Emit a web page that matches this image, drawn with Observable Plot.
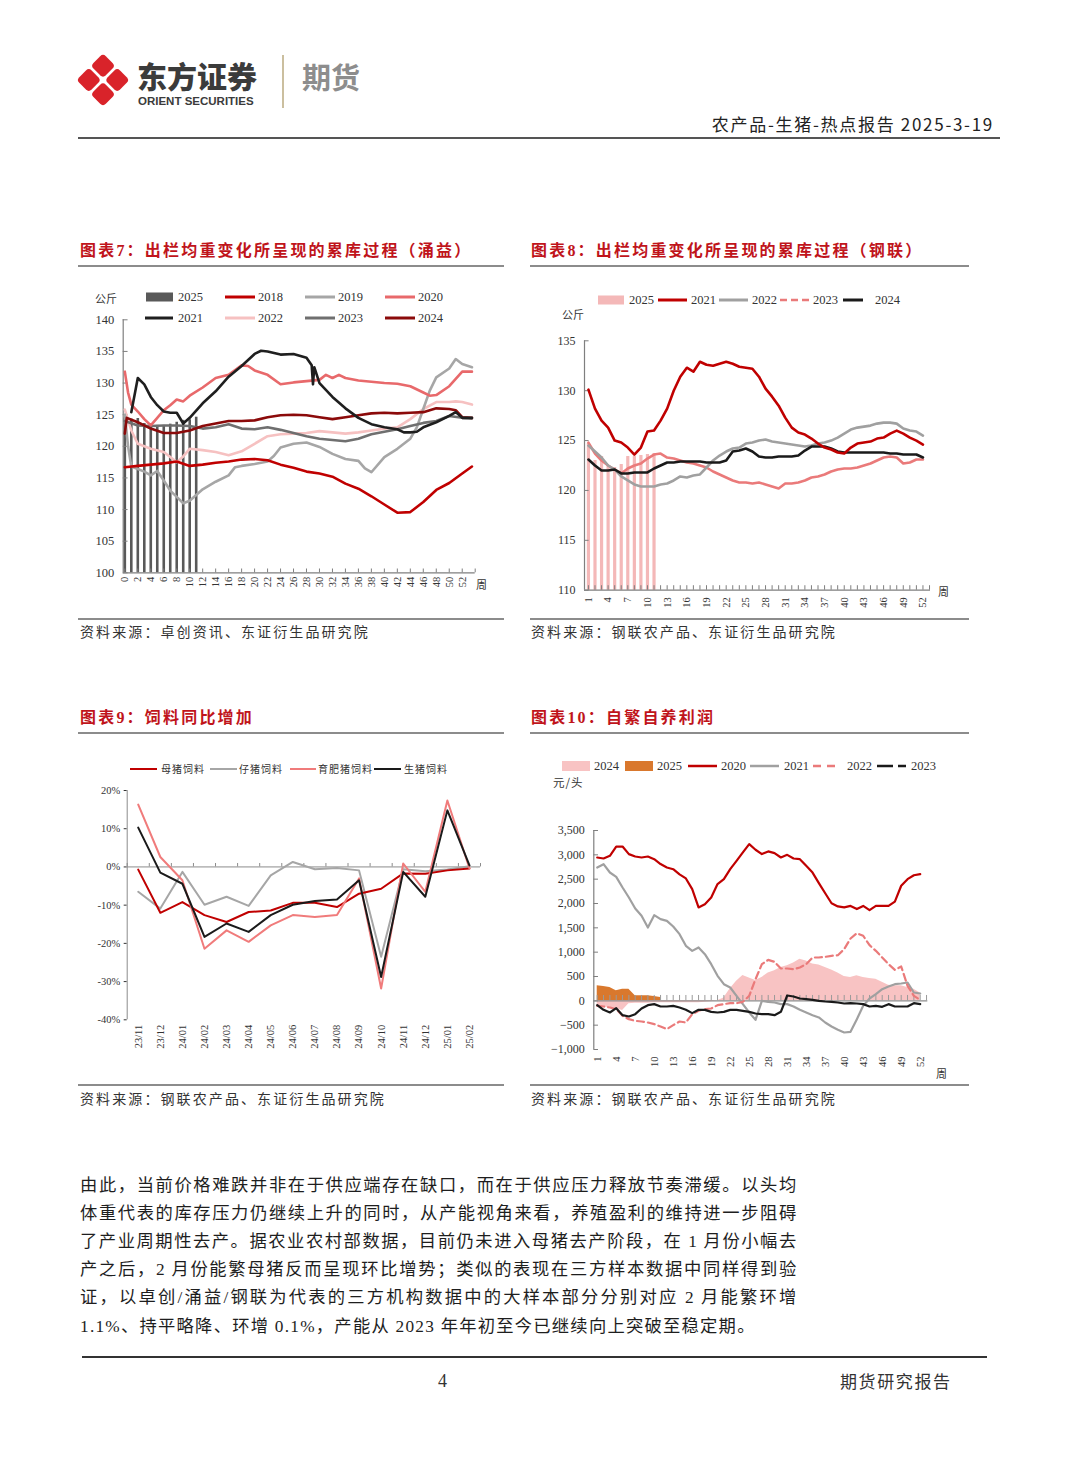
<!DOCTYPE html>
<html><head><meta charset="utf-8">
<script src="https://cdn.jsdelivr.net/npm/d3@7"></script>
<script src="https://cdn.jsdelivr.net/npm/@observablehq/plot@0.6"></script>
<style>
body{margin:0;background:#fff;}
#page{position:relative;width:1080px;height:1466px;overflow:hidden;background:#fff;font-family:"Liberation Serif","Noto Sans CJK SC",serif;color:#222;}
#page div{white-space:nowrap;}
.chart svg g[aria-label^="x-axis"] text{font-size:10.5px;}
.chart svg g[aria-label^="y-axis"] text{font-size:12px;}
.c7 svg g[aria-label^="y-axis"] text{font-size:12.5px;}
.c9 svg g[aria-label^="y-axis"] text{font-size:10.5px;}
</style></head>
<body><div id="page"></div>
<script>
// ---------------- DATA ----------------
// Chart 7 (涌益) weekly average slaughter weight, [week, kg]
const c7XTicks = [0,2,4,6,8,10,12,14,16,18,20,22,24,26,28,30,32,34,36,38,40,42,44,46,48,50,52];
const c7YTicks = [100,105,110,115,120,125,130,135,140];
const c7_2025 = [[0,124.5],[1,124.3],[2,124.4],[3,123.6],[4,123.0],[5,123.3],[6,123.3],[7,123.5],[8,123.8],[9,124.1],[10,124.2],[11,124.6]];
const c7_2018 = [[0,116.7],[2,116.9],[4,117.1],[6,117.3],[8,117.6],[10,116.9],[12,117.1],[14,117.4],[16,117.6],[18,117.9],[20,118],[22,117.8],[24,117.1],[26,116.6],[28,116],[30,115.7],[32,115.2],[34,114.1],[36,113.3],[38,112.1],[40,110.8],[42,109.5],[44,109.6],[46,111.2],[48,113.1],[50,114.2],[52,115.7],[53.5,116.8]];
const c7_2019 = [[0,125],[0.5,120],[1,116.8],[2,116.4],[3,116],[4,115.4],[5,116.1],[6,114.6],[7,113],[8,112],[9,111],[10,111.4],[12,113.2],[14,114.4],[16,115.4],[17,116.7],[18,116.9],[20,117.2],[22,117.6],[23,118.5],[24,119.8],[26,120.4],[28,120.6],[30,119.9],[32,118.8],[34,118],[36,117.7],[37,116.5],[38,115.9],[40,118.3],[42,119.6],[44,121.2],[45,123],[46,125.9],[47,128.8],[48,130.9],[50,132.3],[51,133.8],[52,133],[53.5,132.5]];
const c7_2020 = [[0,131.8],[0.5,128.5],[1,126.6],[2,125.5],[3,124.3],[4,123.3],[5,124.5],[6,125.7],[7,126.5],[8,127.4],[9,127.1],[10,128],[12,129.3],[14,130.8],[16,131.3],[18,132.8],[19,132.7],[20,132],[22,131.3],[24,129.8],[26,130.1],[28,130.3],[30,130.5],[31,131.3],[32,130.8],[33,131.3],[34,130.8],[36,130.4],[38,130.2],[40,130],[42,129.9],[44,129.5],[46,128.5],[47,128],[48,128.1],[50,129.5],[52,131.8],[53.5,131.8]];
const c7_2021 = [[1,125.4],[2,130.8],[3,129.8],[4,127.8],[5,126.5],[6,125.5],[7,125.3],[8,125.3],[9,123.6],[10,124.5],[12,126.8],[14,128.7],[16,131],[18,132.7],[20,134.6],[21,135.1],[22,135],[24,134.5],[26,134.6],[28,134],[28.8,132.8],[29,129.8],[29.2,132.5],[30,130],[32,127.8],[34,126],[36,124.5],[38,123.5],[40,123],[42,122.7],[43,122.2],[44,122.2],[45,122.3],[46,123],[48,123.8],[50,124.8],[51,125.4],[52,124.5],[53.5,124.5]];
const c7_2022 = [[0,125.8],[1,122.5],[2,120.4],[4,119.6],[6,119.1],[7,118.3],[8,117.5],[9,118.4],[10,119.6],[12,119.4],[14,119.1],[16,118.6],[18,119.2],[20,120.4],[22,121.6],[24,121.9],[26,122],[28,122.1],[30,122.4],[32,122.2],[34,122],[36,122.2],[38,122.5],[40,122.8],[42,123],[44,124.3],[46,125.9],[48,127],[50,127],[51,127.1],[52,127],[53.5,126.6]];
const c7_2023 = [[0,124],[2,123.3],[4,123.2],[6,123.3],[8,123.3],[10,123.2],[12,122.8],[14,123],[16,123.5],[18,122.8],[20,122.7],[22,123],[24,122.6],[26,122.1],[28,121.6],[30,121.2],[32,121],[34,120.8],[36,121.2],[38,121.9],[40,122.3],[42,122.7],[44,123.2],[46,123.7],[48,124],[50,124.8],[52,124.5],[53.5,124.4]];
const c7_2024 = [[0,122],[0.3,124.5],[2,123.8],[4,122.8],[6,122.1],[8,122.1],[10,122.5],[12,123.2],[14,123.6],[16,124],[18,124],[20,124.1],[22,124.6],[24,124.9],[26,125],[28,124.9],[30,124.6],[32,124.3],[34,124.6],[36,124.9],[38,125.2],[40,125.3],[42,125.2],[44,125.3],[46,125.4],[48,126],[50,125.9],[51,125.7],[52,124.6],[53.5,124.5]];

// Chart 8 (钢联), weeks 1..52
const c8XTicks = [1,4,7,10,13,16,19,22,25,28,31,34,37,40,43,46,49,52];
const c8YTicks = [110,115,120,125,130,135];
const c8Weeks2025 = [1,2,3,4,5,6,7,8,9,10,11];
const c8_2025 = [124.7,123.0,123.4,122.5,122.3,122.6,123.4,123.4,123.5,123.6,123.7];
const c8_2021 = [130.1,128.2,127,126.3,125,124.8,124.3,123.6,124.3,125.9,126,127,128.2,130,131.4,132.3,131.9,132.9,132.6,132.5,132.7,132.9,132.7,132.4,132.3,132.2,131.4,130.2,129.4,128.5,127.3,126.3,125.8,125.6,125.2,124.7,124.3,124.1,123.8,123.7,124.3,124.7,124.8,124.9,125.2,125.3,125.7,126,125.7,125.3,125,124.6];
const c8_2022 = [124.5,123.9,123.3,122.5,122.1,121.4,121,120.6,120.4,120.4,120.4,120.6,120.7,121,121.4,121.3,121.5,121.6,122.3,123,123.5,123.9,124.2,124.3,124.7,124.8,125,125.1,124.9,124.8,124.7,124.6,124.5,124.4,124.5,124.7,124.8,125,125.3,125.7,126.1,126.3,126.4,126.5,126.7,126.8,126.8,126.7,126.2,126,125.9,125.5];
const c8_2023 = [124.8,123.7,123,122.5,122.1,121.7,122.2,122.5,122.7,123.2,123.6,123.7,123.3,123.2,123,122.8,122.7,122.5,122.3,121.9,121.6,121.3,121,120.8,120.8,120.7,120.8,120.6,120.4,120.2,120.7,120.7,120.8,121,121.3,121.4,121.6,121.9,122.1,122.2,122.2,122.3,122.5,122.7,123,123.3,123.4,123.3,122.7,122.8,123.1,123.1];
const c8_2024 = [123.1,122.5,122,122,122.1,121.7,121.7,121.8,121.8,121.8,122.2,122.5,122.8,122.8,122.9,122.9,122.9,122.9,122.8,122.8,122.8,123,123.9,124,124.2,123.9,123.4,123.3,123.3,123.4,123.4,123.4,123.5,124,124.4,124.4,124.4,124.2,123.9,123.8,123.8,123.8,123.8,123.8,123.8,123.8,123.7,123.7,123.6,123.6,123.6,123.3];

// Chart 9 饲料同比 (%)
const c9Months = ["23/11","23/12","24/01","24/02","24/03","24/04","24/05","24/06","24/07","24/08","24/09","24/10","24/11","24/12","25/01","25/02"];
const c9YTicks = [-40,-30,-20,-10,0,10,20];
const c9Sow = [-0.7,-12,-9.2,-12.6,-14.4,-11.8,-11.4,-9.4,-9.4,-10.5,-7,-5.7,-1.7,-1.8,-0.9,-0.4];
const c9Piglet = [-6.5,-10.9,-1.3,-9.9,-7.8,-10.2,-2.2,1.3,-0.6,-0.3,-0.9,-23.5,-0.6,-1.1,-0.7,0.2];
const c9Fatten = [16.3,2.6,-3.5,-21.4,-16.6,-19.6,-15.3,-12.6,-13.1,-12.6,-3,-31.8,0.9,-6.5,17.4,-0.4];
const c9Hog = [10.3,-1.5,-4.4,-18.3,-14.8,-17,-12.6,-9.9,-8.9,-8.5,-3.5,-28.8,-1.3,-7.8,14.8,0.4];

// Chart 10 自繁自养利润 (元/头), weeks 1..52
const c10XTicks = [1,4,7,10,13,16,19,22,25,28,31,34,37,40,43,46,49,52];
const c10YTicks = [-1000,-500,0,500,1000,1500,2000,2500,3000,3500];
const c10_2024 = [-120,-130,-130,-160,-200,-60,-50,-50,-50,-40,-40,-40,-40,-40,-40,-40,-40,-30,-20,0,60,250,400,520,470,420,480,570,620,685,720,775,855,820,755,735,685,635,570,500,480,515,480,460,445,380,320,310,310,275,240,160];
const c10Weeks2025 = [1,2,3,4,5,6,7,8,9,10,11];
const c10_2025 = [310,295,275,205,240,240,105,105,105,90,70];
const c10_2020 = [2945,2925,2980,3170,3170,3015,2965,2945,2965,2910,2810,2740,2705,2600,2515,2295,1920,1985,2125,2400,2500,2705,2875,3050,3220,3105,3015,3070,3035,2945,3000,2925,2910,2775,2635,2420,2210,2005,1940,1920,1950,1885,1950,1865,1950,1950,1950,2040,2365,2500,2580,2605];
const c10_2021 = [2740,2808,2637,2548,2329,2123,1897,1747,1507,1760,1678,1644,1527,1370,1130,1027,1096,959,753,514,342,274,103,-68,-240,-390,0,-20,-34,-68,-68,-116,-185,-240,-295,-342,-445,-527,-596,-651,-637,-377,-103,48,137,240,295,342,356,377,171,151];
const c10_2022 = [-103,-116,-137,-171,-308,-377,-411,-425,-445,-479,-527,-582,-500,-425,-445,-274,-205,-171,-158,-89,-68,-48,-48,-20,103,445,753,842,801,664,664,651,685,753,890,890,904,925,938,1062,1281,1390,1336,1144,1027,890,753,637,705,308,103,21];
const c10_2023 = [-89,-185,-240,-151,-295,-322,-274,-158,-89,-68,-116,-116,-103,-137,-185,-253,-185,-185,-226,-240,-226,-185,-185,-205,-226,-260,-274,-274,-295,-226,110,89,48,34,21,0,-14,-21,-34,-55,-48,-55,-68,-116,-103,-123,-68,-116,-116,-116,-48,-68];

const bodyLines = [
 "由此，当前价格难跌并非在于供应端存在缺口，而在于供应压力释放节奏滞缓。以头均",
 "体重代表的库存压力仍继续上升的同时，从产能视角来看，养殖盈利的维持进一步阻碍",
 "了产业周期性去产。据农业农村部数据，目前仍未进入母猪去产阶段，在 1 月份小幅去",
 "产之后，2 月份能繁母猪反而呈现环比增势；类似的表现在三方样本数据中同样得到验",
 "证，以卓创/涌益/钢联为代表的三方机构数据中的大样本部分分别对应 2 月能繁环增",
 "1.1%、持平略降、环增 0.1%，产能从 2023 年年初至今已继续向上突破至稳定期。"
];

// ---------------- HELPERS ----------------
const page = document.getElementById("page");
function div(css, html){ const e=document.createElement("div"); e.style.cssText="position:absolute;"+css; if(html!=null) e.innerHTML=html; page.appendChild(e); return e; }
function txt(x,y,s,css){ return div(`left:${x}px;top:${y-12}px;line-height:24px;${css||""}`, s); }
function txtR(xr,y,s,css){ return div(`right:${1080-xr}px;top:${y-12}px;line-height:24px;text-align:right;${css||""}`, s); }
function hline(x1,x2,y,w,color){ div(`left:${x1}px;top:${y-w/2}px;width:${x2-x1}px;height:${w}px;background:${color};`); }
const NS="http://www.w3.org/2000/svg";
const ov=document.createElementNS(NS,"svg");
ov.setAttribute("width",1080); ov.setAttribute("height",1466);
ov.style.cssText="position:absolute;left:0;top:0;pointer-events:none;";
page.appendChild(ov);
function sv(tag, attrs, parent){ const e=document.createElementNS(NS,tag); for(const k in attrs) e.setAttribute(k,attrs[k]); (parent||ov).appendChild(e); return e; }
function legLine(x1,x2,y,color,w,dash){ sv("line",{x1,x2,y1:y,y2:y,stroke:color,"stroke-width":w||3,"stroke-dasharray":dash||"none"}); }
function legRect(x1,x2,y,h,color){ sv("rect",{x:x1,y:y-h/2,width:x2-x1,height:h,fill:color}); }
function mount(svg,left,top,cls){ const d=document.createElement("div"); d.className="chart "+(cls||""); d.style.cssText=`position:absolute;left:${left}px;top:${top}px;`; d.appendChild(svg); page.appendChild(d); }
const st = {background:"transparent", fontFamily:'"Liberation Serif", serif', fontSize:"12px", color:"#333", overflow:"visible"};
const legFont = "font-size:12.5px;color:#333;font-family:'Liberation Serif',serif;";
const cjkSmall = "font-size:11px;color:#333;font-family:'Noto Sans CJK SC',sans-serif;";

// ---------------- HEADER ----------------
const logo = sv("g",{transform:"translate(103,80) rotate(45)"});
const s=17.5, g=2.6;
[[-s-g/2,-s-g/2],[g/2,-s-g/2],[-s-g/2,g/2],[g/2,g/2]].forEach(([x,y])=>sv("rect",{x,y,width:s,height:s,rx:4,fill:"#d9232a"},logo));
div("left:137px;top:58px;line-height:34px;height:34px;font-family:'Noto Sans CJK SC',sans-serif;font-weight:900;font-size:30px;color:#3b3b3b;", "东方证券");
div("left:138px;top:95px;line-height:13px;height:13px;font-family:'Liberation Sans',Arial,sans-serif;font-weight:bold;font-size:11.5px;color:#3b3b3b;", "ORIENT SECURITIES");
div("left:282px;top:55px;width:1.5px;height:53px;background:#cbbf9f;");
div("left:302px;top:59px;line-height:34px;height:34px;font-family:'Noto Sans CJK SC',sans-serif;font-weight:700;font-size:29px;color:#8d8d8d;", "期货");
txtR(994,124,"农产品-生猪-热点报告 2025-3-19","font-family:'Noto Sans CJK SC',sans-serif;font-size:17px;color:#222;letter-spacing:1.7px;");
hline(78,1000,138,2,"#555");

// ---------------- SECTION TITLES ----------------
const titleCss="font-family:'Liberation Serif','Noto Sans CJK SC',serif;font-weight:700;font-size:16px;color:#c0141b;letter-spacing:2.2px;";
const srcCss="font-family:'Liberation Serif','Noto Sans CJK SC',serif;font-size:14px;color:#333;letter-spacing:2.1px;";
txt(80,251,"图表7：出栏均重变化所呈现的累库过程（涌益）",titleCss);
txt(531,251,"图表8：出栏均重变化所呈现的累库过程（钢联）",titleCss);
hline(78,504,266,2,"#8c8c8c"); hline(530,969,266,2,"#8c8c8c");
hline(78,504,619,2,"#8c8c8c"); hline(530,969,619,2,"#8c8c8c");
txt(80,633,"资料来源：卓创资讯、东证衍生品研究院",srcCss);
txt(531,633,"资料来源：钢联农产品、东证衍生品研究院",srcCss);
txt(80,718,"图表9：饲料同比增加",titleCss);
txt(531,718,"图表10：自繁自养利润",titleCss);
hline(78,504,733,2,"#8c8c8c"); hline(530,969,733,2,"#8c8c8c");
hline(78,504,1085,2,"#8c8c8c"); hline(530,969,1085,2,"#8c8c8c");
txt(80,1100,"资料来源：钢联农产品、东证衍生品研究院",srcCss);
txt(531,1100,"资料来源：钢联农产品、东证衍生品研究院",srcCss);

// ---------------- CHART 7 ----------------
const C = {red:"#c00000", gray:"#a6a6a6", salmon:"#e8696b", black:"#1f1f1f", pink:"#f6c1c1", dgray:"#6f6f6f", maroon:"#8b0a0a"};
const ln7 = (data,color)=>Plot.line(data,{x:d=>d[0],y:d=>d[1],stroke:color,strokeWidth:2.6,strokeLinejoin:"round"});
const p7 = Plot.plot({
  width:420, height:300, marginLeft:47.7, marginRight:20.3, marginTop:19.3, marginBottom:27.7,
  x:{domain:[-0.25,54], ticks:c7XTicks, tickSize:0, tickPadding:4, tickRotate:-90, label:null},
  y:{domain:[100,140], ticks:c7YTicks, tickSize:0, tickPadding:9, label:null},
  style:st,
  marks:[
    Plot.ruleX(c7_2025,{x:d=>d[0],y1:100,y2:d=>d[1],stroke:"#595959",strokeWidth:2.6}),
    Plot.ruleY([100],{stroke:"#7f7f7f",strokeWidth:1.2}),
    Plot.ruleX([-0.25],{stroke:"#7f7f7f",strokeWidth:1.2}),
    Plot.ruleY(c7YTicks,{x1:-0.25,x2:0.5,stroke:"#7f7f7f"}),
    Plot.ruleX(c7XTicks.concat([54]),{y1:100,y2:100.6,stroke:"#7f7f7f"}),
    ln7(c7_2022,C.pink), ln7(c7_2019,C.gray), ln7(c7_2023,C.dgray), ln7(c7_2018,C.red),
    ln7(c7_2020,C.salmon), ln7(c7_2024,C.maroon), ln7(c7_2021,C.black)
  ]
});
mount(p7,75,300,"c7");
txt(95,298,"公斤","font-size:11px;color:#333;font-family:'Noto Sans CJK SC',sans-serif;");
txt(476,584,"周","font-size:11px;color:#333;font-family:'Noto Sans CJK SC',sans-serif;");
legRect(146,173,297,9,"#595959"); txt(178,297,"2025",legFont);
legLine(225,255,297,C.red); txt(258,297,"2018",legFont);
legLine(305,335,297,C.gray); txt(338,297,"2019",legFont);
legLine(385,415,297,C.salmon); txt(418,297,"2020",legFont);
legLine(145,173,318,C.black); txt(178,318,"2021",legFont);
legLine(225,255,318,C.pink); txt(258,318,"2022",legFont);
legLine(305,335,318,C.dgray); txt(338,318,"2023",legFont);
legLine(385,415,318,C.maroon); txt(418,318,"2024",legFont);

// ---------------- CHART 8 ----------------
const C8 = {bar:"#f4b8b8", red:"#c00000", gray:"#a0a0a0", salmon:"#ea7a7a", black:"#1a1a1a"};
const ln8 = (data,color)=>Plot.line(data,{x:(d,i)=>i+1,y:d=>d,stroke:color,strokeWidth:2.6,strokeLinejoin:"round"});
const p8 = Plot.plot({
  width:440, height:300, marginLeft:54, marginRight:40, marginTop:20.3, marginBottom:30.3,
  x:{domain:[0.4,53.15], ticks:c8XTicks, tickSize:0, tickPadding:7, tickRotate:-90, label:null},
  y:{domain:[110,135], ticks:c8YTicks, tickSize:0, tickPadding:9, label:null},
  style:st,
  marks:[
    Plot.ruleX(c8_2025,{x:(d,i)=>c8Weeks2025[i],y1:110,y2:d=>d,stroke:C8.bar,strokeWidth:3.2}),
    Plot.ruleY([110],{stroke:"#7f7f7f",strokeWidth:1.2}),
    Plot.ruleX([0.4],{stroke:"#7f7f7f",strokeWidth:1.2}),
    Plot.ruleY(c8YTicks,{x1:0.4,x2:1.1,stroke:"#7f7f7f"}),
    Plot.ruleX(d3.range(1,54),{y1:110,y2:110.45,stroke:"#7f7f7f"}),
    ln8(c8_2023,C8.salmon), ln8(c8_2022,C8.gray), ln8(c8_2024,C8.black), ln8(c8_2021,C8.red)
  ]
});
mount(p8,530,320);
txt(562,314,"公斤","font-size:11px;color:#333;font-family:'Noto Sans CJK SC',sans-serif;");
txt(938,591,"周","font-size:11px;color:#333;font-family:'Noto Sans CJK SC',sans-serif;");
legRect(598,624,300,9,C8.bar); txt(629,300,"2025",legFont);
legLine(658,687,300,C8.red); txt(691,300,"2021",legFont);
legLine(719,748,300,C8.gray); txt(752,300,"2022",legFont);
legLine(780,810,300,C8.salmon,2.5,"7,4"); txt(813,300,"2023",legFont);
legLine(843,863,300,C8.black); txt(875,300,"2024",legFont);

// ---------------- CHART 9 ----------------
const C9 = {sow:"#c00000", piglet:"#a6a6a6", fatten:"#f07b7b", hog:"#1a1a1a"};
const ln9 = (data,color)=>Plot.line(data,{x:(d,i)=>i,y:d=>d,stroke:color,strokeWidth:2,strokeLinejoin:"round"});
const p9 = Plot.plot({
  width:420, height:290, marginLeft:51.7, marginRight:15, marginTop:15, marginBottom:45.7,
  x:{domain:[-0.5,15.5], ticks:c9Months.map((m,i)=>i), tickFormat:i=>c9Months[i], tickSize:0, tickPadding:5, tickRotate:-90, label:null},
  y:{domain:[-40,20], ticks:c9YTicks, tickFormat:d=>d+"%", tickSize:3, tickPadding:4, label:null},
  style:st,
  marks:[
    Plot.ruleX([-0.5],{stroke:"#8c8c8c",strokeWidth:1}),
    Plot.ruleY([0],{stroke:"#8c8c8c",strokeWidth:1}),
    Plot.ruleX(d3.range(-0.5,16,1),{y1:0,y2:0.9,stroke:"#8c8c8c"}),
    ln9(c9Piglet,C9.piglet), ln9(c9Sow,C9.sow), ln9(c9Fatten,C9.fatten), ln9(c9Hog,C9.hog)
  ]
});
mount(p9,75,775,"c9");
legLine(130,157,769,C9.sow,2); txt(161,769,"母猪饲料",cjkSmall+"font-size:10px;letter-spacing:1px;");
legLine(210,237,769,C9.piglet,2); txt(239,769,"仔猪饲料",cjkSmall+"font-size:10px;letter-spacing:1px;");
legLine(290,316,769,C9.fatten,2); txt(318,769,"育肥猪饲料",cjkSmall+"font-size:10px;letter-spacing:1px;");
legLine(374,401,769,C9.hog,2); txt(404,769,"生猪饲料",cjkSmall+"font-size:10px;letter-spacing:1px;");

// ---------------- CHART 10 ----------------
const C10 = {a24:"#f8c3c3", a25:"#d9782d", y20:"#c00000", y21:"#a0a0a0", y22:"#ea7a7a", y23:"#1a1a1a"};
const ln10 = (data,color,dash)=>Plot.line(data,{x:(d,i)=>i+1,y:d=>d,stroke:color,strokeWidth:2.2,strokeDasharray:dash||null,strokeLinejoin:"round"});
const p10 = Plot.plot({
  width:440, height:280, marginLeft:63.3, marginRight:42.7, marginTop:20, marginBottom:41,
  x:{domain:[0.46,53.2], ticks:c10XTicks, tickSize:0, tickPadding:7, tickRotate:-90, label:null},
  y:{domain:[-1000,3500], ticks:c10YTicks, tickFormat:d3.format(","), tickSize:0, tickPadding:9, label:null},
  style:st,
  marks:[
    Plot.areaY(c10_2024,{x:(d,i)=>i+1,y1:0,y2:d=>d,fill:C10.a24}),
    Plot.areaY(c10_2025,{x:(d,i)=>c10Weeks2025[i],y1:0,y2:d=>d,fill:C10.a25}),
    Plot.ruleX([0.46],{stroke:"#7f7f7f",strokeWidth:1.2}),
    Plot.ruleY(c10YTicks,{x1:0.46,x2:1.2,stroke:"#7f7f7f"}),
    Plot.ruleY([0],{stroke:"#8c8c8c",strokeWidth:1.2}),
    Plot.ruleX(d3.range(1,54),{y1:0,y2:110,stroke:"#9a9a9a"}),
    ln10(c10_2021,C10.y21), ln10(c10_2022,C10.y22,"7,4"), ln10(c10_2023,C10.y23), ln10(c10_2020,C10.y20)
  ]
});
mount(p10,530,810);
txt(553,782,"元/头","font-size:11.5px;color:#333;font-family:'Noto Sans CJK SC',sans-serif;letter-spacing:1px;");
txt(936,1073,"周","font-size:11px;color:#333;font-family:'Noto Sans CJK SC',sans-serif;");
legRect(562,590,766,10,C10.a24); txt(594,766,"2024",legFont);
legRect(625,653,766,10,C10.a25); txt(657,766,"2025",legFont);
legLine(688,717,766,C10.y20,2.5); txt(721,766,"2020",legFont);
legLine(750,779,766,C10.y21,2.5); txt(784,766,"2021",legFont);
legLine(813,840,766,C10.y22,2.5,"8,6"); txt(847,766,"2022",legFont);
legLine(877,906,766,C10.y23,2.5,"16,5,8,0"); txt(911,766,"2023",legFont);

// ---------------- BODY TEXT ----------------
const lineY=[1186,1214,1242,1270,1298,1327];
bodyLines.forEach((s,i)=>{
  const last = i===bodyLines.length-1;
  div(`left:80px;top:${lineY[i]-14}px;width:${last?760:717}px;line-height:28px;font-size:17.3px;letter-spacing:${last?1.25:0.8}px;color:#1e1e1e;text-align:${last?"left":"justify"};text-align-last:${last?"left":"justify"};font-family:'Liberation Serif','Noto Sans CJK SC',serif;white-space:normal;`, s);
});

// ---------------- FOOTER ----------------
hline(82,987,1357,1.5,"#333");
txt(438,1381,"4","font-size:18px;color:#333;font-family:'Liberation Serif',serif;");
txt(840,1381,"期货研究报告","font-size:17px;color:#333;letter-spacing:1.6px;font-family:'Noto Sans CJK SC',sans-serif;");
</script>
</body></html>
